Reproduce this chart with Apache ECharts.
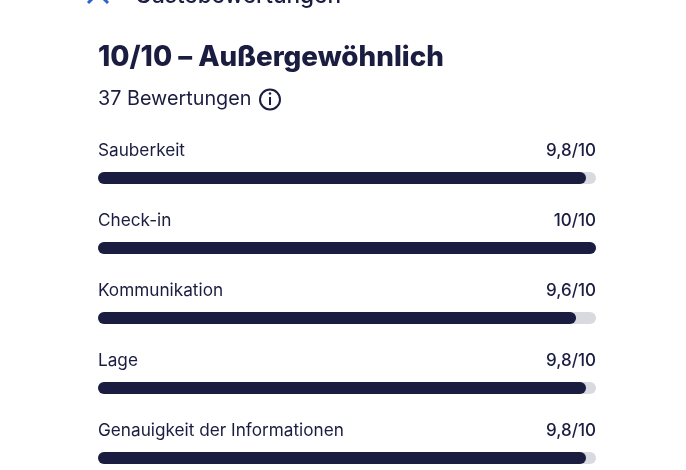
<!DOCTYPE html>
<html><head><meta charset="utf-8">
<style>html,body{margin:0;padding:0;background:#fff}#c{width:686px;height:470px;overflow:hidden}</style>
<script src="https://cdn.jsdelivr.net/npm/echarts@6/dist/echarts.min.js"></script></head>
<body><div id="c"></div>
<script>
const categories = ['Sauberkeit','Check-in','Kommunikation','Lage','Genauigkeit der Informationen'];
const scores = [9.8,10,9.6,9.8,9.8];
const maxScore = 10;
const titleText = '10/10 – Außergewöhnlich';
const subText = '37 Bewertungen';
const headText = 'Gästebewertungen';
const ink = '#1a1d40', track = '#d9d9e0', FONT = 'Inter';
const fmt = v => String(v).replace('.', ',') + '/' + maxScore;
const chart = echarts.init(document.getElementById('c'), null, {renderer:'canvas'});
chart.setOption({
  animation:false,
  backgroundColor:'#fff',
  grid:{left:98,top:143,width:498,height:350,outerBoundsMode:'none',containLabel:false},
  xAxis:{type:'value',min:0,max:maxScore,show:false},
  yAxis:{type:'category',inverse:true,data:categories,show:false},
  series:[
    {type:'bar',data:categories.map(()=>maxScore),barWidth:12,barGap:'-100%',silent:true,
     itemStyle:{color:track,borderRadius:6},
     label:{show:true,position:['100%',-30],align:'right',verticalAlign:'top',
       fontFamily:FONT,fontSize:17,fontWeight:500,color:ink,
       formatter:p=>fmt(scores[p.dataIndex])}},
    {type:'bar',data:scores,barWidth:12,barGap:'-100%',
     itemStyle:{color:ink,borderRadius:6},
     label:{show:true,position:[0,-30],align:'left',verticalAlign:'top',
       fontFamily:FONT,fontSize:17.2,color:ink,formatter:p=>p.name}}
  ],
  graphic:[
    {type:'text',left:98,top:44,style:{text:titleText,font:'800 27.8px '+FONT,fill:ink}},
    {type:'text',left:98,top:89,style:{text:subText,font:'400 19.8px '+FONT,fill:ink}},
    {type:'text',left:135,top:-15,style:{text:headText,font:'500 22.6px '+FONT,fill:ink}},
    {type:'circle',shape:{cx:270,cy:99.5,r:10},style:{fill:'none',stroke:ink,lineWidth:2}},
    {type:'rect',shape:{x:269,y:97,width:2,height:8},style:{fill:ink}},
    {type:'circle',shape:{cx:270,cy:93.5,r:1.3},style:{fill:ink}},
    {type:'polyline',shape:{points:[[88,3],[94,-3]]},style:{stroke:'#2f5fd0',lineWidth:3,fill:'none'}},
    {type:'polyline',shape:{points:[[108,3],[102,-3]]},style:{stroke:'#2f5fd0',lineWidth:3,fill:'none'}}
  ]
});
</script></body></html>
